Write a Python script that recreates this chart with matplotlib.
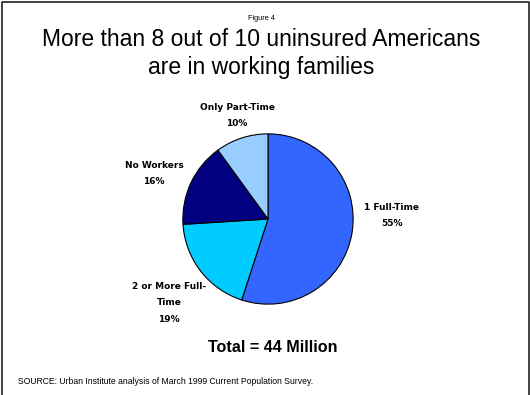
import matplotlib
matplotlib.use('Agg')
import matplotlib.pyplot as plt
from matplotlib.lines import Line2D

# Uninsured Americans by family work status
groups = ['1 Full-Time', '2 or More Full-\nTime', 'No Workers', 'Only Part-Time']
shares = [55, 19, 16, 10]
colors = ['#3366FF', '#00CCFF', '#000080', '#99CCFF']
# label anchor: x centre and baseline of the first line, in figure pixels from top-left
label_pos = [(392, 210), (169, 289), (154, 168), (237, 110)]

plt.rcParams['font.family'] = ['Liberation Sans', 'DejaVu Sans']

W, H = 530, 395
fig = plt.figure(figsize=(W / 100, H / 100), dpi=100)


def put(x, y, s, **kw):
    # place text by pixel position, y measured from the top
    fig.text(x / W, 1 - y / H, s, ha=kw.pop('ha', 'center'), va='baseline', **kw)


# frame round the slide (left, top, right)
fig.add_artist(Line2D([1.5 / W, 1.5 / W, 1 - 1.5 / W, 1 - 1.5 / W],
                      [0, 1 - 1.5 / H, 1 - 1.5 / H, 0],
                      transform=fig.transFigure, color='#222222', lw=1.2))

put(261, 20, 'Figure 4', fontsize=5.3)
put(261, 46.5, 'More than 8 out of 10 uninsured Americans', fontsize=16.5)
put(261, 74, 'are in working families', fontsize=16.5)

cx, cy, r = 268, 219, 86
ax = fig.add_axes([(cx - r) / W, 1 - (cy + r) / H, 2 * r / W, 2 * r / H])
ax.pie(shares, colors=colors, startangle=90, counterclock=False,
       wedgeprops=dict(edgecolor='black', linewidth=0.8))
ax.set_aspect('equal')
ax.set_xlim(-1.01, 1.01)
ax.set_ylim(-1.01, 1.01)
ax.axis('off')

for name, val, (x, y) in zip(groups, shares, label_pos):
    lines = name.split('\n') + [f'{val}%']
    for i, line in enumerate(lines):
        put(x, y + 16.3 * i, line, fontsize=6.5, fontweight='bold', family='DejaVu Sans')

put(273, 352, 'Total = 44 Million', fontsize=11.6, fontweight='bold')
put(18, 384, 'SOURCE: Urban Institute analysis of March 1999 Current Population Survey.',
    ha='left', fontsize=6.2)

fig.savefig('out.png', dpi=100)
